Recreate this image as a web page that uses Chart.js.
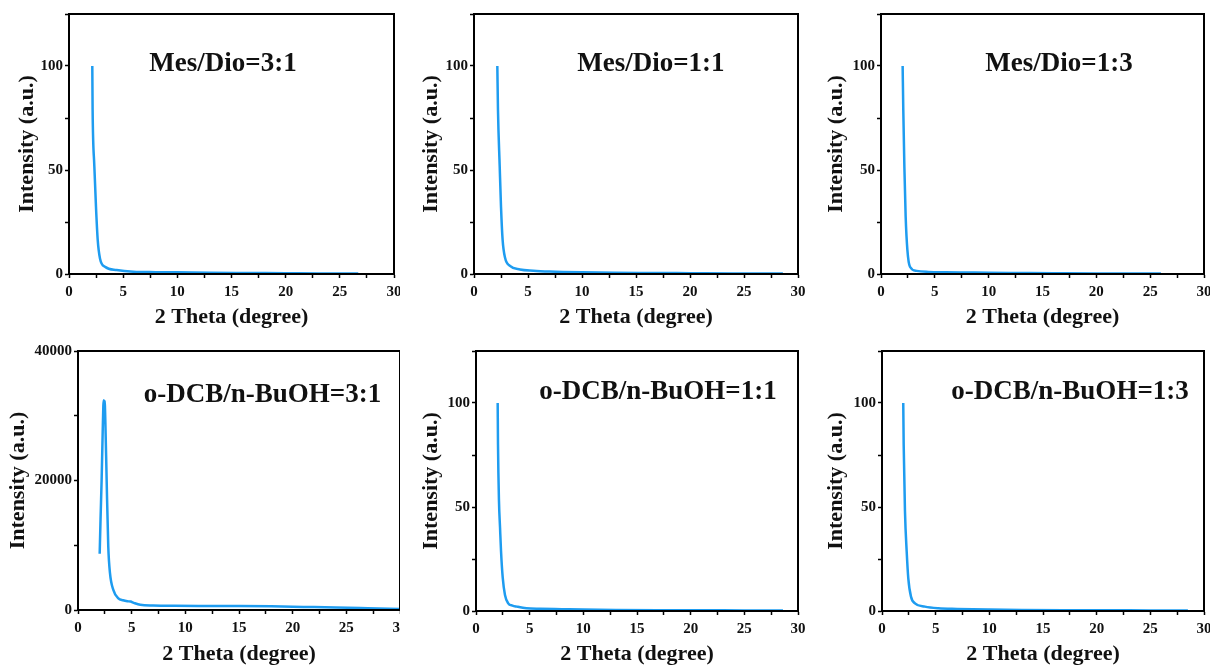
<!DOCTYPE html>
<html lang="en">
<head>
    <meta charset="UTF-8">
    <title>XRD patterns - solvent ratios</title>
    <script src="https://cdn.jsdelivr.net/npm/chart.js"></script>
    <style>
        body {
            margin: 0;
            background: #fff;
        }
        .panel {
            position: absolute;
        }
    </style>
</head>
<body>
    <canvas id="p1" class="panel" width="400" height="335" style="left:0px;top:0px"></canvas>
    <canvas id="p2" class="panel" width="400" height="335" style="left:405px;top:0px"></canvas>
    <canvas id="p3" class="panel" width="400" height="335" style="left:810px;top:0px"></canvas>
    <canvas id="p4" class="panel" width="400" height="333" style="left:0px;top:335px"></canvas>
    <canvas id="p5" class="panel" width="400" height="333" style="left:405px;top:335px"></canvas>
    <canvas id="p6" class="panel" width="400" height="333" style="left:810px;top:335px"></canvas>

    <script>
        // 2 Theta (degree) / intensity
        const mesDio31X = [2.15, 2.18, 2.34, 2.49, 2.65, 2.86, 3.32, 4.4, 5.94, 8, 10, 13, 16, 20, 23, 26.7];
        const mesDio31Y = [100, 79, 51.7, 32.4, 16.4, 7.5, 3.5, 1.9, 1.1, 0.9, 0.8, 0.6, 0.5, 0.4, 0.3, 0.3];

        const mesDio11X = [2.16, 2.22, 2.38, 2.5, 2.65, 2.87, 3.33, 4.26, 5.49, 7, 10, 13, 16, 20, 24, 28.6];
        const mesDio11Y = [100, 79, 51.7, 32.4, 16.4, 7.9, 3.9, 2.2, 1.6, 1.2, 0.8, 0.6, 0.5, 0.4, 0.3, 0.3];

        const mesDio13X = [2.01, 2.07, 2.17, 2.29, 2.45, 2.69, 3.31, 4.4, 6, 8, 10, 13, 16, 20, 23, 26];
        const mesDio13Y = [100, 79, 51.7, 27.6, 11.6, 3.5, 1.5, 1.0, 0.8, 0.7, 0.6, 0.5, 0.4, 0.3, 0.3, 0.2];

        const dcb31X = [2.02, 2.1, 2.2, 2.3, 2.36, 2.4, 2.44, 2.48, 2.55, 2.67, 2.82, 2.98, 3.29, 3.76, 4.2, 4.6, 4.9, 5.2, 5.8, 7, 9, 12, 15, 18, 21, 24, 27, 30];
        const dcb31Y = [8700, 14000, 20000, 27500, 31500, 32400, 29500, 32300, 29000, 20000, 9800, 5700, 3100, 1800, 1500, 1350, 1300, 1100, 800, 700, 650, 620, 600, 560, 480, 400, 280, 150];

        const dcb11X = [2.02, 2.05, 2.14, 2.24, 2.33, 2.49, 2.7, 3.0, 3.4, 3.8, 4.7, 6, 8, 10, 13, 17, 21, 25, 28.6];
        const dcb11Y = [100, 80, 53, 40, 29, 16, 7.7, 3.7, 2.6, 2.1, 1.3, 1.1, 0.9, 0.7, 0.5, 0.4, 0.4, 0.3, 0.3];

        const dcb13X = [1.98, 2.02, 2.14, 2.3, 2.45, 2.7, 3.07, 4.0, 5.25, 7, 10, 13, 17, 21, 25, 28.5];
        const dcb13Y = [100, 80, 48, 28.6, 15.7, 6.9, 3.7, 2.1, 1.3, 1.0, 0.7, 0.5, 0.4, 0.4, 0.3, 0.3];

        // tick values
        const xTickLabels = [0, 5, 10, 15, 20, 25, 30];
        const yTickLabelsNorm = [0, 50, 100];
        const yTickLabelsRaw = [0, 20000, 40000];

        const lineColor = '#1e9cf0';
        const serif = "'Liberation Serif', 'Times New Roman', serif";

        // draws the black box round the plot area and the sample label
        const framePlugin = {
            id: 'frame',
            afterDraw(chart, args, opts) {
                const a = chart.chartArea;
                const ctx = chart.ctx;
                ctx.save();
                ctx.strokeStyle = '#000';
                ctx.lineWidth = 2;
                ctx.strokeRect(a.left, a.top, a.right - a.left, a.bottom - a.top);
                ctx.fillStyle = '#111';
                ctx.font = 'bold 27px ' + serif;
                ctx.textAlign = 'center';
                ctx.textBaseline = 'middle';
                ctx.fillText(opts.text, a.left + opts.fx * (a.right - a.left), a.top + opts.fy * (a.bottom - a.top));
                ctx.restore();
            }
        };

        function makePanel(id, label, xs, ys, cfg) {
            new Chart(document.getElementById(id), {
                type: 'line',
                data: {
                    datasets: [{
                        data: xs.map((x, i) => ({ x: x, y: ys[i] })),
                        borderColor: lineColor,
                        borderWidth: 2.5,
                        pointRadius: 0,
                        cubicInterpolationMode: 'monotone',
                        fill: false
                    }]
                },
                options: {
                    responsive: false,
                    animation: false,
                    devicePixelRatio: 1,
                    layout: { padding: { top: cfg.top, right: cfg.right, left: 0, bottom: 0 } },
                    plugins: {
                        legend: { display: false },
                        tooltip: { enabled: false },
                        frame: { text: label, fx: cfg.fx, fy: cfg.fy }
                    },
                    scales: {
                        x: {
                            type: 'linear',
                            min: 0,
                            max: 30,
                            afterFit: (s) => { s.height = cfg.xH; s.paddingLeft = 0; s.paddingRight = 0; },
                            ticks: {
                                stepSize: 2.5,
                                autoSkip: false,
                                maxRotation: 0,
                                padding: 5,
                                color: '#111',
                                font: { family: serif, size: 15, weight: 'bold' },
                                callback: (v) => xTickLabels.includes(v) ? String(v) : ''
                            },
                            grid: { drawOnChartArea: false, tickLength: 4, tickWidth: 1.5, tickColor: '#000' },
                            border: { color: '#000', width: 2 },
                            title: {
                                display: true,
                                text: '2 Theta (degree)',
                                color: '#111',
                                font: { family: serif, size: 22, weight: 'bold' },
                                padding: { top: 0, bottom: cfg.xTitlePad }
                            }
                        },
                        y: {
                            min: 0,
                            max: cfg.yMax,
                            afterFit: (s) => { s.width = cfg.yW; s.paddingTop = 0; s.paddingBottom = 0; },
                            ticks: {
                                stepSize: cfg.yStep,
                                autoSkip: false,
                                padding: 2,
                                color: '#111',
                                font: { family: serif, size: 15, weight: 'bold' },
                                callback: (v) => cfg.yLabels.includes(v) ? String(v) : ''
                            },
                            grid: { drawOnChartArea: false, tickLength: 4, tickWidth: 1.5, tickColor: '#000' },
                            border: { color: '#000', width: 2 },
                            title: {
                                display: true,
                                text: 'Intensity (a.u.)',
                                color: '#111',
                                font: { family: serif, size: 22, weight: 'bold' },
                                padding: { top: cfg.yTitlePad, bottom: 0 }
                            }
                        }
                    }
                },
                plugins: [framePlugin]
            });
        }

        const normTop = { yMax: 125, yStep: 25, yLabels: yTickLabelsNorm };

        makePanel('p1', 'Mes/Dio=3:1', mesDio31X, mesDio31Y,
            Object.assign({ top: 14, right: 6, yW: 69, xH: 61, yTitlePad: 14, xTitlePad: 4, fx: 0.474, fy: 0.192 }, normTop));
        makePanel('p2', 'Mes/Dio=1:1', mesDio11X, mesDio11Y,
            Object.assign({ top: 14, right: 7, yW: 69, xH: 61, yTitlePad: 13, xTitlePad: 4, fx: 0.546, fy: 0.192 }, normTop));
        makePanel('p3', 'Mes/Dio=1:3', mesDio13X, mesDio13Y,
            Object.assign({ top: 14, right: 6, yW: 71, xH: 61, yTitlePad: 13.5, xTitlePad: 4, fx: 0.551, fy: 0.192 }, normTop));
        makePanel('p4', 'o-DCB/n-BuOH=3:1', dcb31X, dcb31Y,
            { top: 16, right: 0, yW: 78, xH: 58, yTitlePad: 5, xTitlePad: 0, fx: 0.573, fy: 0.17, yMax: 40000, yStep: 10000, yLabels: yTickLabelsRaw });
        makePanel('p5', 'o-DCB/n-BuOH=1:1', dcb11X, dcb11Y,
            Object.assign({ top: 16, right: 7, yW: 71, xH: 57, yTitlePad: 13, xTitlePad: 0, fx: 0.565, fy: 0.158 }, normTop));
        makePanel('p6', 'o-DCB/n-BuOH=1:3', dcb13X, dcb13Y,
            Object.assign({ top: 16, right: 6, yW: 72, xH: 57, yTitlePad: 13.5, xTitlePad: 0, fx: 0.584, fy: 0.158 }, normTop));
    </script>
</body>
</html>
